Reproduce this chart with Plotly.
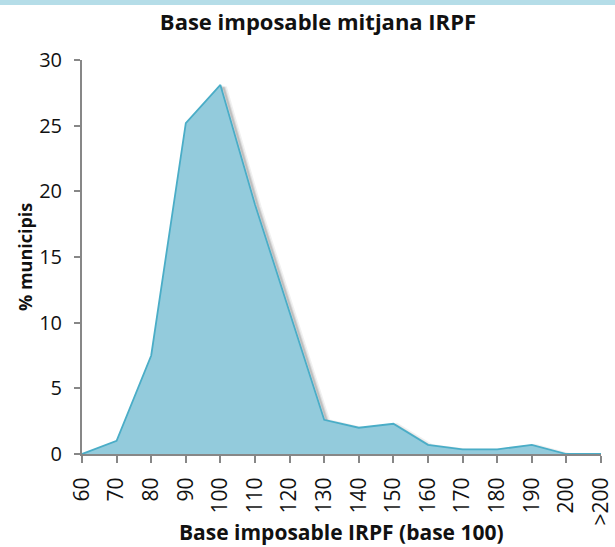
import plotly.graph_objects as go

# Distribution of municipalities by average IRPF taxable base (base 100)
categories = ["60", "70", "80", "90", "100", "110", "120", "130", "140",
              "150", "160", "170", "180", "190", "200", ">200"]
pct_municipis = [0.0, 1.0, 7.5, 25.2, 28.1, 19.0, 10.8, 2.6, 2.0,
                 2.3, 0.7, 0.35, 0.35, 0.7, 0.0, 0.0]
y_ticks = [0, 5, 10, 15, 20, 25, 30]

xpos = list(range(len(categories)))

FONT = "Open Sans, Segoe UI, sans-serif"
FILL = "#93cbdc"
LINE = "#4aadc7"
AXIS = "#878787"
TEXT = "#111111"

W, H = 615, 547
M = dict(l=82, r=14, t=60, b=93)

fig = go.Figure()

# soft drop shadow under the ridge of the area
for w, a in [(7, 0.06), (4, 0.09), (2, 0.12)]:
    fig.add_trace(go.Scatter(
        x=[v + 0.09 for v in xpos], y=[v - 0.2 for v in pct_municipis],
        mode="lines", line=dict(color=f"rgba(0,0,0,{a})", width=w),
        hoverinfo="skip", showlegend=False))

fig.add_trace(go.Scatter(
    x=xpos, y=pct_municipis, mode="lines", fill="tozeroy",
    fillcolor=FILL, line=dict(color=LINE, width=1.8),
    showlegend=False))

plot_h = H - M["t"] - M["b"]
plot_w = W - M["l"] - M["r"]

fig.update_layout(
    width=W, height=H, margin=M,
    paper_bgcolor="white", plot_bgcolor="white",
    font=dict(family=FONT, color=TEXT),
    title=dict(text="<b>Base imposable mitjana IRPF</b>",
               x=0.517, xanchor="center", y=1 - 22 / H, yanchor="middle",
               font=dict(size=22, color=TEXT)),
    shapes=[dict(type="rect", xref="paper", yref="paper",
                 x0=-0.2, x1=1.1, y0=1 + 55 / plot_h, y1=1.2,
                 fillcolor="#b5dde8", line=dict(width=0), layer="above")],
    annotations=[
        dict(text="<b>Base imposable IRPF (base 100)</b>",
             xref="paper", yref="paper", x=0.5, y=-(532 - 454) / plot_h,
             xanchor="center", yanchor="middle", showarrow=False,
             font=dict(size=21, color=TEXT)),
        dict(text="<b>% municipis</b>", textangle=-90,
             xref="paper", yref="paper", x=-(82 - 25) / plot_w, y=0.5,
             xanchor="center", yanchor="middle", showarrow=False,
             font=dict(size=18, color=TEXT)),
    ],
)

fig.update_xaxes(
    range=[0, len(categories) - 1], tickmode="array",
    tickvals=xpos, ticktext=categories, tickangle=-90,
    showline=True, linecolor=AXIS, linewidth=2,
    ticks="outside", ticklen=7, tickwidth=2, tickcolor=AXIS,
    showgrid=False, zeroline=False, automargin=False,
    ticklabelstandoff=6,
    tickfont=dict(size=21, color=TEXT),
)

fig.update_yaxes(
    range=[0, 30], tickmode="array", tickvals=y_ticks,
    showline=True, linecolor=AXIS, linewidth=2,
    ticks="outside", ticklen=6, tickwidth=2, tickcolor=AXIS,
    showgrid=False, zeroline=False, automargin=False,
    ticklabelstandoff=8,
    tickfont=dict(size=20, color=TEXT),
)

fig.write_html("out.html")
